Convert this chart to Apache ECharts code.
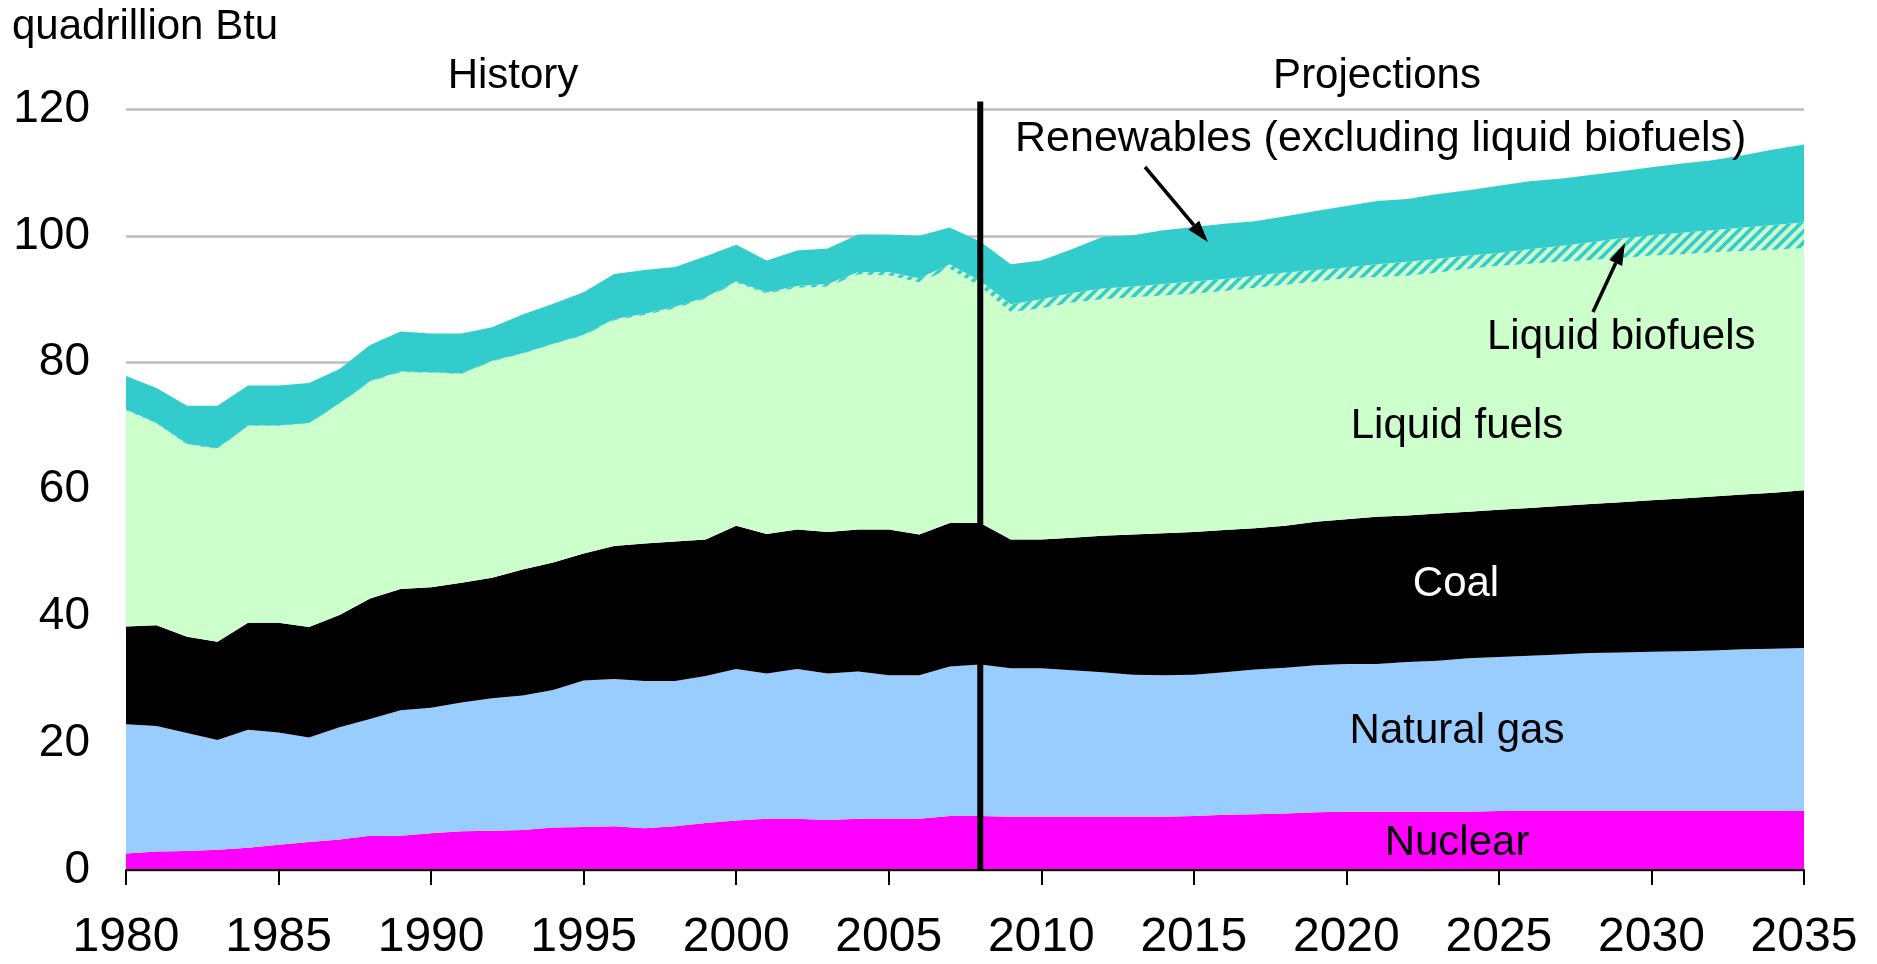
<!DOCTYPE html>
<html>
<head>
<meta charset="utf-8">
<title>US primary energy consumption by fuel</title>
<script src="https://cdn.jsdelivr.net/npm/echarts@6/dist/echarts.min.js"></script>
<style>
html, body { margin: 0; padding: 0; background: #fff; }
#chart { width: 1877px; height: 964px; }
</style>
</head>
<body>
<div id="chart"></div>
<script>
// years 1980..2035, history ends at 2008
const years = []
for (let y = 1980; y <= 2035; y++) years.push(String(y))

const nuclear = [2.6, 2.9, 3.0, 3.2, 3.5, 4.0, 4.4, 4.8, 5.4, 5.4, 5.8, 6.1, 6.2, 6.3, 6.7,
  6.8, 6.9, 6.6, 6.9, 7.4, 7.8, 8.1, 8.1, 7.9, 8.1, 8.1, 8.1, 8.5, 8.5,
  8.4, 8.4, 8.4, 8.4, 8.4, 8.4, 8.5, 8.7, 8.8, 8.9, 9.1, 9.2, 9.2, 9.2, 9.2, 9.2,
  9.3, 9.3, 9.3, 9.3, 9.3, 9.3, 9.3, 9.3, 9.3, 9.3, 9.3]
const naturalGas = [20.4, 19.8, 18.6, 17.3, 18.6, 17.7, 16.5, 17.7, 18.4, 19.8, 19.8, 20.3, 20.9, 21.2, 21.7,
  23.1, 23.2, 23.2, 22.9, 23.2, 23.9, 22.9, 23.6, 23.1, 23.2, 22.6, 22.6, 23.6, 23.9,
  23.4, 23.4, 23.1, 22.8, 22.4, 22.3, 22.3, 22.5, 22.8, 23.0, 23.2, 23.3, 23.3, 23.6, 23.8, 24.2,
  24.3, 24.5, 24.7, 24.9, 25.0, 25.1, 25.2, 25.3, 25.5, 25.6, 25.7]
const coal = [15.4, 15.9, 15.2, 15.5, 16.9, 17.3, 17.4, 17.7, 19.0, 19.1, 19.0, 18.9, 19.0, 19.9, 20.1,
  20.0, 21.0, 21.7, 22.0, 21.5, 22.6, 22.0, 22.0, 22.3, 22.4, 23.0, 22.2, 22.6, 22.3,
  20.3, 20.3, 20.9, 21.5, 22.1, 22.4, 22.5, 22.4, 22.3, 22.4, 22.6, 22.8, 23.2, 23.1, 23.2, 23.1,
  23.2, 23.3, 23.4, 23.5, 23.7, 23.9, 24.1, 24.3, 24.4, 24.6, 24.9]
const liquidFuels = [34.1, 31.8, 30.3, 30.4, 31.0, 31.0, 32.1, 33.3, 34.2, 34.2, 33.8, 32.9, 34.1, 34.0, 34.4,
  34.4, 35.6, 36.0, 36.8, 38.0, 38.3, 37.9, 38.1, 38.7, 40.2, 40.1, 39.8, 40.1, 37.3,
  35.9, 36.5, 37.1, 37.3, 37.4, 37.5, 37.6, 37.7, 37.9, 38.0, 37.9, 38.0, 37.8, 37.8, 38.0, 38.3,
  38.5, 38.5, 38.5, 38.5, 38.5, 38.6, 38.5, 38.5, 38.4, 38.3, 38.2]
const liquidBiofuels = [0.1, 0.1, 0.1, 0.1, 0.1, 0.1, 0.1, 0.1, 0.1, 0.1, 0.1, 0.1, 0.1, 0.1, 0.1,
  0.1, 0.2, 0.2, 0.2, 0.2, 0.2, 0.2, 0.3, 0.4, 0.4, 0.5, 0.6, 0.7, 0.9,
  1.2, 1.4, 1.5, 1.7, 1.7, 1.8, 1.9, 1.9, 1.9, 1.9, 1.8, 1.7, 2.0, 2.2, 2.2, 2.1,
  2.0, 2.3, 2.5, 2.8, 3.1, 3.2, 3.4, 3.5, 3.7, 3.9, 4.0]
const renewables = [5.3, 5.5, 6.0, 6.7, 6.3, 6.3, 6.3, 5.4, 5.7, 6.3, 6.1, 6.3, 5.3, 6.1, 6.3,
  6.7, 7.1, 6.9, 6.3, 6.5, 5.8, 5.0, 5.6, 5.6, 5.9, 5.9, 6.7, 5.8, 6.2,
  6.3, 6.1, 6.9, 8.1, 8.1, 8.5, 8.6, 8.7, 8.6, 8.9, 9.3, 9.7, 10.0, 9.9, 10.2, 10.3,
  10.6, 10.7, 10.6, 10.6, 10.6, 10.7, 10.9, 11.0, 11.4, 11.9, 12.3]

const splitYear = '2008'
const FONT = '"Liberation Sans", Arial, sans-serif'

// diagonal teal hatch on light green for the biofuels band
function hatchPattern() {
  const c = document.createElement('canvas')
  c.width = 11
  c.height = 11
  const g = c.getContext('2d')
  g.fillStyle = '#CCFFCC'
  g.fillRect(0, 0, 11, 11)
  g.strokeStyle = '#33CCCC'
  g.lineWidth = 3.6
  g.beginPath()
  g.moveTo(-5.5, 5.5); g.lineTo(5.5, -5.5)
  g.moveTo(0, 11); g.lineTo(11, 0)
  g.moveTo(5.5, 16.5); g.lineTo(16.5, 5.5)
  g.stroke()
  return { image: c, repeat: 'repeat' }
}

function areaSeries(name, data, color) {
  return {
    name: name,
    type: 'line',
    stack: 'total',
    data: data,
    symbol: 'none',
    showSymbol: false,
    lineStyle: { width: 0 },
    areaStyle: { color: color, opacity: 1 },
    emphasis: { disabled: true },
    z: 2
  }
}

function arrow(x1, y1, x2, y2) {
  const ang = Math.atan2(y2 - y1, x2 - x1)
  const len = 22, half = 7
  const bx = x2 - len * Math.cos(ang), by = y2 - len * Math.sin(ang)
  const px = -Math.sin(ang) * half, py = Math.cos(ang) * half
  return [{
    type: 'line',
    shape: { x1: x1, y1: y1, x2: bx, y2: by },
    style: { stroke: '#000', lineWidth: 3.5 },
    z: 20
  }, {
    type: 'polygon',
    shape: { points: [[x2, y2], [bx + px, by + py], [bx - px, by - py]] },
    style: { fill: '#000' },
    z: 20
  }]
}

function label(text, x, y, align, color, size) {
  return {
    type: 'text',
    x: x,
    y: y,
    z: 20,
    style: {
      text: text,
      font: (size || 42) + 'px ' + FONT,
      fill: color || '#000',
      align: align || 'center',
      verticalAlign: 'middle'
    }
  }
}

const option = {
  animation: false,
  backgroundColor: '#fff',
  grid: { left: 126, right: 73, top: 109, bottom: 94 },
  xAxis: {
    type: 'category',
    data: years,
    boundaryGap: false,
    axisLine: { show: true, lineStyle: { color: '#000', width: 2 } },
    axisTick: { show: true, interval: 4, length: 15, lineStyle: { color: '#000', width: 2 } },
    axisLabel: {
      interval: 4, margin: 44, color: '#000',
      fontFamily: FONT, fontSize: 48, lineHeight: 48
    },
    splitLine: { show: false },
    z: 5
  },
  yAxis: {
    type: 'value',
    min: 0,
    max: 120,
    interval: 20,
    axisLine: { show: false },
    axisTick: { show: false },
    axisLabel: { margin: 36, color: '#000', fontFamily: FONT, fontSize: 46 },
    splitLine: { lineStyle: { color: '#BDBDBD', width: 2.5 } }
  },
  series: [
    areaSeries('Nuclear', nuclear, '#FF00FF'),
    areaSeries('Natural gas', naturalGas, '#99CCFF'),
    areaSeries('Coal', coal, '#000000'),
    areaSeries('Liquid fuels', liquidFuels, '#CCFFCC'),
    areaSeries('Liquid biofuels', liquidBiofuels, hatchPattern()),
    areaSeries('Renewables (excluding liquid biofuels)', renewables, '#33CCCC')
  ],
  graphic: [
    {
      type: 'text', x: 12, y: 27, z: 20,
      style: { text: 'quadrillion Btu', font: '42px ' + FONT, fill: '#000', verticalAlign: 'middle' }
    },
    label('History', 513, 76),
    label('Projections', 1377, 76),
    label('Renewables (excluding liquid biofuels)', 1015, 139, 'left', '#000', 43),
    label('Liquid biofuels', 1487, 337, 'left'),
    label('Liquid fuels', 1457, 426),
    label('Coal', 1456, 584, 'center', '#fff'),
    label('Natural gas', 1457, 731),
    label('Nuclear', 1457, 843)
  ].concat(arrow(1145, 167, 1208, 242), arrow(1593, 312, 1625, 243))
}

const chart = echarts.init(document.getElementById('chart'), null, { renderer: 'canvas' })
chart.setOption(option)

// history / projections divider, placed through the chart's own scales
const sx = chart.convertToPixel({ xAxisIndex: 0 }, splitYear)
const y0 = chart.convertToPixel({ yAxisIndex: 0 }, 0)
const yTop = chart.convertToPixel({ yAxisIndex: 0 }, 121.2)
chart.setOption({
  graphic: option.graphic.concat([{
    type: 'line',
    shape: { x1: sx, y1: yTop, x2: sx, y2: y0 },
    style: { stroke: '#000', lineWidth: 6 },
    z: 15
  }])
})

window.onresize = function () {
  chart.resize()
}
</script>
</body>
</html>
